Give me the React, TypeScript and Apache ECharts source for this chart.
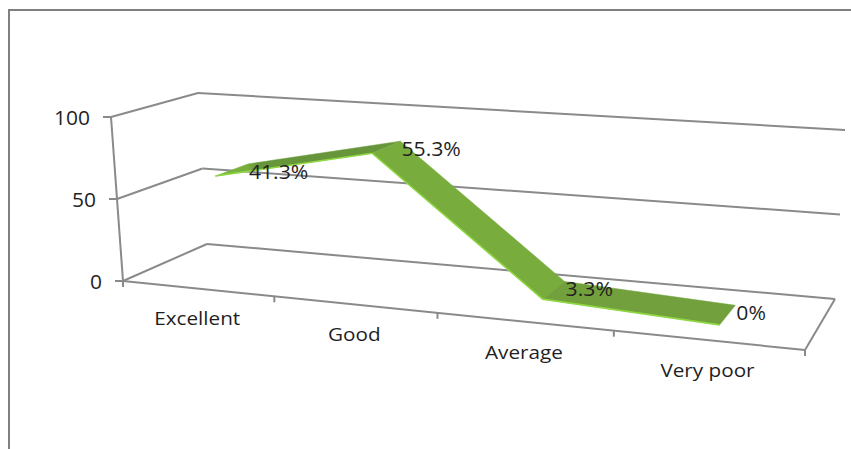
import React, { useEffect, useRef } from "react";
import * as echarts from "echarts";

// Survey ratings: answers per category out of all respondents.
const categories = ["Excellent", "Good", "Average", "Very poor"];
const responses = [62, 83, 5, 0];
const respondents = 150;
const valueTicks = [0, 50, 100];

const FONT = "'Open Sans', sans-serif";
const GRID = { left: 100, top: 40, width: 600, height: 300 };

// Corners of the 3D box on screen; c runs along the categories, d into the page.
type P = [number, number];
const FLOOR: P[] = [[123, 281], [805, 350], [835, 299], [207, 244]];
const CEILING: P[] = [[111, 117], [816, 166], [845, 130], [198, 93]];
const RIBBON_FRONT = 0.29;
const RIBBON_BACK = 0.69;
// Softens the foreshortening along the category direction.
const PERSPECTIVE_EASE = 0.0085;
// Small sideways offset of each ribbon joint, in box units.
const JOINT_SHIFT = [0.003, 0.013, 0.003, 0];

function squareToQuad(q: P[]) {
  const [[x0, y0], [x1, y1], [x2, y2], [x3, y3]] = q;
  const dx1 = x1 - x2, dx2 = x3 - x2, sx = x0 - x1 + x2 - x3;
  const dy1 = y1 - y2, dy2 = y3 - y2, sy = y0 - y1 + y2 - y3;
  const den = dx1 * dy2 - dx2 * dy1;
  const g = (sx * dy2 - dx2 * sy) / den;
  const h = (dx1 * sy - sx * dy1) / den;
  const a = x1 - x0 + g * x1, b = x3 - x0 + h * x3;
  const d = y1 - y0 + g * y1, e = y3 - y0 + h * y3;
  return (u: number, v: number): P => {
    const w = g * u + h * v + 1;
    return [(a * u + b * v + x0) / w, (d * u + e * v + y0) / w];
  };
}
const floorAt = squareToQuad(FLOOR);
const ceilingAt = squareToQuad(CEILING);

function project(c: number, d: number, level: number): P {
  const eased = c + PERSPECTIVE_EASE * 4 * c * (1 - c);
  const f = floorAt(eased, d);
  const t = ceilingAt(eased, d);
  return [f[0] + (t[0] - f[0]) * level, f[1] + (t[1] - f[1]) * level];
}

// Turns axis-scale pixels of the hidden grid into box coordinates.
const toC = (px: number) => (px - GRID.left) / GRID.width;
const toLevel = (py: number) => 1 - (py - GRID.top) / GRID.height;

const percentLabel = (v: number) => `${+((v / respondents) * 100).toFixed(1)}%`;

const AXIS_STYLE = { stroke: "#8a8a8a", lineWidth: 2, fill: "none" };
const segment = (a: P, b: P) => ({
  type: "line",
  shape: { x1: a[0], y1: a[1], x2: b[0], y2: b[1] },
  style: AXIS_STYLE,
  silent: true,
});
const label = (text: string, x: number, y: number, align: string, size: number, stretch: number) => ({
  type: "text",
  x,
  y,
  scaleX: stretch,
  silent: true,
  style: { text, fill: "#1f1f1f", font: `${size}px ${FONT}`, align, verticalAlign: "middle" },
});

function renderFrame(_: any, api: any) {
  const children: any[] = [];
  valueTicks.forEach((t) => {
    const level = toLevel(api.coord([0, t])[1]);
    const frontLeft = project(0, 0, level);
    const backLeft = project(0, 1, level);
    const backRight = project(1, 1, level);
    children.push(segment(frontLeft, backLeft), segment(backLeft, backRight));
    children.push(segment([frontLeft[0] - 8, frontLeft[1]], frontLeft));
    children.push(label(String(t), frontLeft[0] - 21, frontLeft[1], "right", 20, 1.05));
  });
  children.push(segment(project(0, 0, 0), project(0, 0, 1)));
  children.push(segment(project(0, 0, 0), project(1, 0, 0)));
  children.push(segment(project(1, 0, 0), project(1, 1, 0)));
  categories.forEach((name, i) => {
    const step = api.size([1, 0])[0] / GRID.width;
    const center = toC(api.coord([i, 0])[0]);
    const edge = project(center - step / 2, 0, 0);
    children.push(segment(edge, [edge[0], edge[1] + 6]));
    if (i === categories.length - 1) {
      const end = project(center + step / 2, 0, 0);
      children.push(segment(end, [end[0], end[1] + 6]));
    }
    const mid = project(center, 0, 0);
    children.push(label(name, mid[0], mid[1] + 30, "center", 18, 1.15));
  });
  return { type: "group", children };
}

const SEGMENT_FILL: any[] = [
  new echarts.graphic.LinearGradient(0, 0, 1, 0, [
    { offset: 0, color: "#7DB63F" },
    { offset: 0.17, color: "#78AD3E" },
    { offset: 0.23, color: "#67953A" },
    { offset: 1, color: "#67953A" },
  ]),
  "#78AD3E",
  "#71A03C",
];

function jointCorners(i: number, value: number, api: any) {
  const p = api.coord([i, value]);
  const c = toC(p[0]) + JOINT_SHIFT[i];
  const level = toLevel(p[1]);
  return [project(c, RIBBON_FRONT, level), project(c, RIBBON_BACK, level)];
}

function renderRibbon(_: any, api: any) {
  const i = api.value(0);
  if (i >= responses.length - 1) return { type: "group", children: [] };
  const [front0, back0] = jointCorners(i, api.value(1), api);
  const [front1, back1] = jointCorners(i + 1, responses[i + 1], api);
  const fill = SEGMENT_FILL[i];
  return {
    type: "group",
    children: [
      {
        type: "polygon",
        shape: { points: [front0, back0, back1, front1] },
        style: { fill, stroke: fill, lineWidth: 0.5 },
        silent: true,
      },
      {
        type: "line",
        shape: { x1: front0[0], y1: front0[1], x2: front1[0], y2: front1[1] },
        style: { stroke: "#8FD742", lineWidth: 1.6 },
        silent: true,
      },
    ],
  };
}

function renderValueLabel(_: any, api: any) {
  const i = api.value(0);
  const back = jointCorners(i, api.value(1), api)[1];
  return label(percentLabel(api.value(1)), back[0] + 1, back[1] + 7, "left", 20, 1.06);
}

export default function App() {
  const ref = useRef<HTMLDivElement>(null);
  useEffect(() => {
    document.body.style.margin = "0";
    document.body.style.background = "#fff";
    const chart = echarts.init(ref.current!, undefined, { renderer: "svg" });
    const points = responses.map((v, i) => [i, v]);
    chart.setOption({
      animation: false,
      backgroundColor: "#ffffff",
      grid: GRID,
      xAxis: { type: "category", data: categories, show: false },
      yAxis: { type: "value", min: 0, max: 100, interval: 50, show: false },
      graphic: [
        {
          type: "polyline",
          shape: { points: [[9, 449], [9, 10], [851, 10]] },
          style: { stroke: "#808080", lineWidth: 2, fill: "none" },
          silent: true,
        },
      ],
      series: [
        { type: "custom", clip: false, silent: true, z: 1, data: [[0, 0]], renderItem: renderFrame },
        { type: "custom", clip: false, silent: true, z: 2, data: points, renderItem: renderRibbon },
        { type: "custom", clip: false, silent: true, z: 3, data: points, renderItem: renderValueLabel },
      ],
    });
    return () => chart.dispose();
  }, []);
  return <div ref={ref} style={{ width: 851, height: 449 }} />;
}
